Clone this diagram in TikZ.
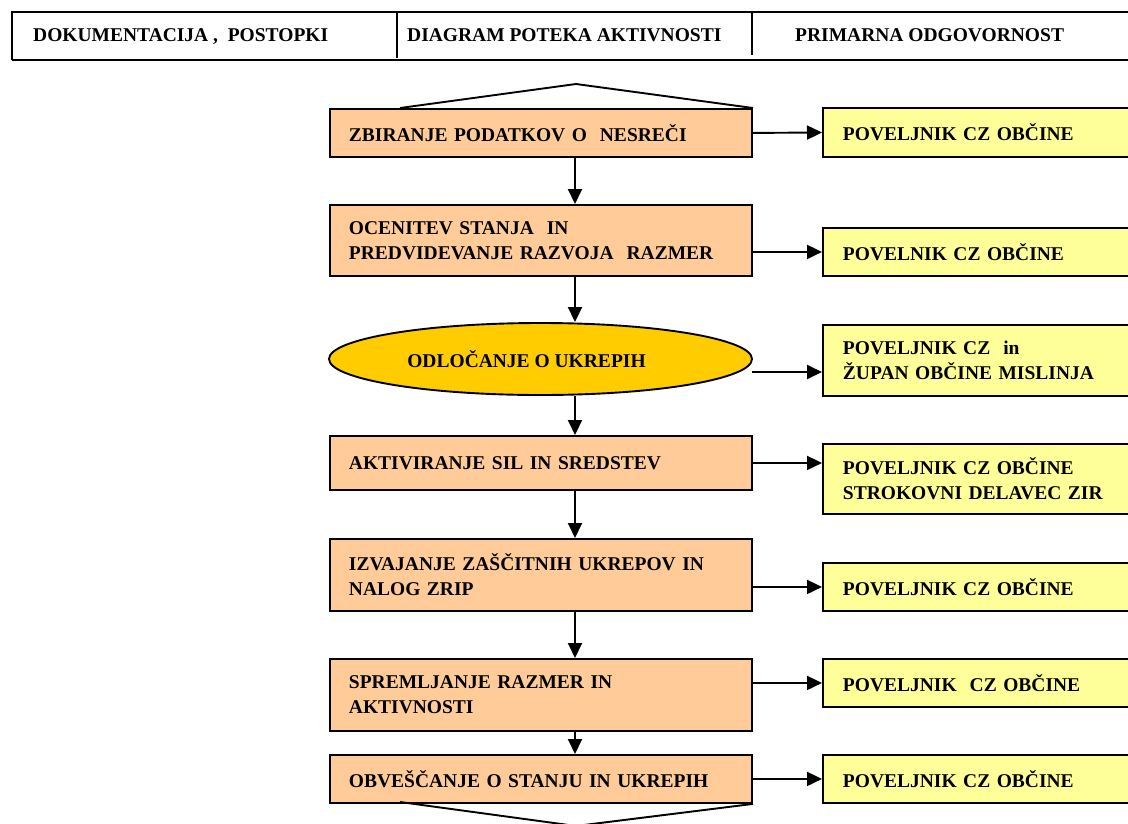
\documentclass[tikz,border=0pt]{standalone}
\usepackage{fontspec}
\setmainfont{Liberation Serif}
\usetikzlibrary{arrows.meta,shapes.geometric}
\definecolor{peach}{HTML}{FFCC99}
\definecolor{lemon}{HTML}{FFFF99}
\definecolor{gold}{HTML}{FFCC00}
\begin{document}
\begin{tikzpicture}[x=1pt,y=-1pt,
    font=\bfseries\fontsize{19.5}{25}\selectfont,
    act/.style={draw, line width=1.9pt, fill=peach, anchor=north west,
      text width=384pt, inner xsep=19pt, inner ysep=0pt, align=left},
    resp/.style={draw, line width=1.9pt, fill=lemon, anchor=north west,
      text width=290pt, inner xsep=20pt, inner ysep=0pt, align=left},
    flow/.style={line width=1.9pt, -{Triangle[length=15pt,width=14pt]}},
    head/.style={anchor=base west, inner sep=0pt}]
  \useasboundingbox (0,0) rectangle (1128,823);
  \clip (0,0) rectangle (1128,823);

  % header
  \draw[line width=1.8pt] (1140,12) -- (12,12) -- (12,60);
  \draw[line width=2.6pt] (12,60) -- (1140,60);
  \draw[line width=1.6pt] (397,11) -- (397,58);
  \draw[line width=1.6pt] (752,13) -- (752,55);
  \node[head] (h1) at (33,41.5) {DOKUMENTACIJA ,\ \ POSTOPKI};
  \node[head] (h2) at (407,41.5) {DIAGRAM POTEKA AKTIVNOSTI};
  \node[head] (h3) at (795,41.5) {PRIMARNA ODGOVORNOST};

  % activities
  \node[act, minimum height=48pt] (b1) at (329,108) {ZBIRANJE PODATKOV O\ \ NESREČI};
  \node[act, minimum height=71pt] (b2) at (329,204) {OCENITEV STANJA\ \ IN\\PREDVIDEVANJE RAZVOJA\ \ RAZMER};
  \node[ellipse, draw, line width=1.9pt, fill=gold, minimum width=423pt,
    minimum height=72pt, inner sep=0pt] (d3) at (540.5,359) {ODLOČANJE O UKREPIH\kern28pt};
  \node[act, minimum height=54pt] (b4) at (329,435) {AKTIVIRANJE SIL IN SREDSTEV};
  \node[act, minimum height=72pt] (b5) at (329,538) {IZVAJANJE ZAŠČITNIH UKREPOV IN\\NALOG ZRIP};
  \node[act, minimum height=72pt] (b6) at (329,658) {SPREMLJANJE RAZMER IN\\AKTIVNOSTI};
  \node[act, minimum height=48pt] (b7) at (329,754) {OBVEŠČANJE O STANJU IN UKREPIH};

  % responsibilities
  \node[resp, minimum height=49pt] (r1) at (822,107) {POVELJNIK CZ OBČINE};
  \node[resp, minimum height=48pt] (r2) at (822,227) {POVELNIK CZ OBČINE};
  \node[resp, minimum height=71pt] (r3) at (822,324) {POVELJNIK CZ\ \ in\\ŽUPAN OBČINE MISLINJA};
  \node[resp, minimum height=70pt] (r4) at (822,443) {POVELJNIK CZ OBČINE\\STROKOVNI DELAVEC ZIR};
  \node[resp, minimum height=48pt] (r5) at (822,562) {POVELJNIK CZ OBČINE};
  \node[resp, minimum height=48pt] (r6) at (822,658) {POVELJNIK\ \ CZ OBČINE};
  \node[resp, minimum height=48pt] (r7) at (822,754) {POVELJNIK CZ OBČINE};

  % start and end marks
  \draw[line width=1.9pt] (400,108) -- (576,84) -- (b1.north east);
  \draw[line width=1.9pt] (400,802) -- (576,826) -- (b7.south east);

  \coordinate (axis) at (575,0);
  \draw[flow] (b1.south -| axis) -- (b2.north -| axis);
  \draw[flow] (b2.south -| axis) -- (d3.north -| axis);
  \draw[flow] (d3.south -| axis) -- (b4.north -| axis);
  \draw[flow] (b4.south -| axis) -- (b5.north -| axis);
  \draw[flow] (b5.south -| axis) -- (b6.north -| axis);
  \draw[flow] (b6.south -| axis) -- (b7.north -| axis);

  \coordinate (d3out) at (752,372);
  \draw[flow] (b1.east) -- (r1.west);
  \draw[flow] (b2.east |- r2.west) -- (r2.west);
  \draw[flow] (d3out) -- (d3out -| r3.west);
  \draw[flow] (b4.east) -- (b4.east -| r4.west);
  \draw[flow] (b5.east |- r5.west) -- (r5.west);
  \draw[flow] (b6.east |- r6.west) -- (r6.west);
  \draw[flow] (b7.east) -- (r7.west);
\end{tikzpicture}
\end{document}
